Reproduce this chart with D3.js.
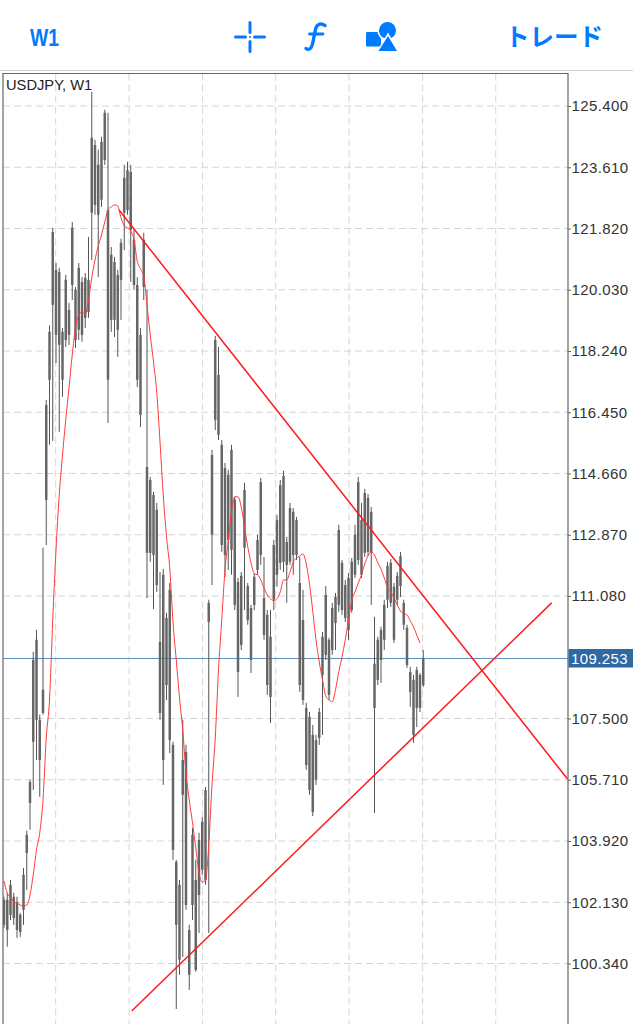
<!DOCTYPE html>
<html>
<head>
<meta charset="utf-8">
<script src="https://cdn.jsdelivr.net/npm/d3@7"></script>
<style>
  html, body { margin: 0; padding: 0; background: #fff; }
  svg { display: block; }
</style>
</head>
<body>
<div id="chart"></div>
<script>
// weekly bars
const high = [102.29,102.40,102.78,102.40,102.29,101.82,103.13,104.22,105.71,109.45,110.09,107.61,112.49,116.81,118.99,121.84,120.81,120.67,118.91,120.46,119.65,122.01,120.11,120.81,120.40,120.52,121.57,125.81,124.41,124.12,124.50,125.29,125.20,121.28,120.99,120.61,121.52,123.68,123.77,123.68,121.78,120.40,118.91,121.69,120.03,114.56,114.12,113.80,111.78,111.87,110.59,111.46,106.82,103.37,102.78,107.46,106.73,101.47,104.30,103.37,104.16,104.62,105.50,110.97,115.35,118.68,118.36,115.64,114.97,114.77,115.50,113.98,111.61,111.78,114.39,111.46,110.82,111.75,112.87,114.53,112.22,110.67,110.67,112.72,113.45,114.47,114.74,112.81,113.80,113.65,113.39,112.22,111.26,107.96,107.69,107.31,107.02,107.81,110.03,111.37,109.86,110.88,111.17,113.16,112.13,111.55,111.75,112.19,113.16,114.56,113.80,114.21,114.06,113.68,110.47,109.89,110.18,110.97,112.08,112.16,111.46,111.78,112.37,110.97,110.24,109.01,108.77,109.01,108.83,109.50];
const open = [102.20,102.20,102.64,102.29,102.14,101.76,102.93,104.10,105.65,109.21,109.80,107.46,108.34,116.66,118.80,121.72,120.61,120.55,118.80,120.32,119.44,121.84,120.03,120.67,120.26,120.38,120.32,124.47,124.26,123.68,124.35,125.20,122.36,121.05,120.84,120.46,121.40,123.30,123.53,123.47,121.49,120.17,118.71,121.49,114.85,114.47,114.03,113.60,109.74,111.70,110.44,111.26,106.73,103.31,102.64,106.29,106.52,101.32,104.10,102.78,103.95,104.48,105.41,110.88,115.20,118.56,117.54,115.50,114.82,114.62,115.35,113.89,111.49,111.67,114.18,111.37,110.73,111.64,112.72,114.41,111.02,110.53,109.89,112.57,113.30,114.32,114.59,112.66,113.65,113.54,113.30,111.46,110.38,107.81,107.55,107.02,106.87,107.69,109.89,111.11,109.80,110.73,111.05,113.01,112.05,111.40,111.61,112.08,112.87,114.41,113.30,114.09,113.95,113.54,109.10,109.80,110.09,110.82,111.96,112.05,111.35,111.67,112.25,110.88,110.15,108.86,108.63,108.92,108.77,108.48];
const close = [101.47,101.32,101.76,101.67,101.32,101.26,101.91,103.57,105.03,106.82,107.46,106.29,107.66,113.89,117.40,119.59,118.71,118.42,117.40,118.56,118.71,120.17,118.56,118.86,118.71,119.21,119.38,122.28,122.51,122.22,122.66,123.82,117.40,119.15,119.15,118.86,120.32,122.28,122.36,121.78,120.17,117.40,116.37,120.11,112.34,112.34,112.28,111.40,107.66,106.29,108.48,106.87,103.66,101.47,100.45,105.27,102.05,100.01,102.05,100.15,102.34,103.08,102.78,110.32,112.87,116.23,115.79,112.57,112.28,112.72,112.43,110.82,108.86,109.65,112.49,110.38,109.21,110.82,111.84,112.28,109.94,108.48,108.13,110.97,111.70,112.05,112.08,111.99,112.08,112.28,112.28,108.48,108.04,106.14,105.41,104.77,105.71,106.93,108.77,109.36,108.19,109.50,110.29,110.82,110.67,110.44,110.09,110.67,111.70,112.13,111.70,112.34,112.37,112.34,107.81,108.63,109.21,109.80,110.97,110.88,109.80,110.97,111.37,110.24,109.06,108.28,107.02,107.81,107.81,109.25];
const low = [101.38,100.83,101.61,101.47,101.09,101.12,101.47,102.49,104.25,105.41,106.29,105.21,107.61,112.57,115.50,115.61,117.89,115.88,116.90,118.36,118.42,119.73,118.33,118.56,118.51,118.91,119.21,120.90,122.22,120.40,122.45,123.68,116.14,118.80,118.65,118.07,119.15,121.19,122.22,120.26,120.03,117.19,116.02,119.73,111.02,112.08,110.70,111.20,107.46,105.56,108.04,106.49,103.37,99.01,100.01,100.53,101.91,99.57,101.61,100.10,101.23,102.93,102.64,101.23,111.40,115.93,115.64,112.37,111.64,111.84,111.70,110.67,108.13,109.50,110.67,110.24,108.83,110.67,111.70,111.99,109.80,108.19,107.37,110.67,111.35,111.84,111.78,110.88,111.99,111.70,112.13,108.28,107.90,106.00,105.27,104.65,105.56,106.73,107.02,109.21,108.04,109.36,109.50,110.62,110.53,110.32,109.80,110.59,111.61,111.99,111.61,112.22,112.25,110.82,104.74,108.48,108.54,109.50,110.73,110.76,109.71,110.82,111.05,110.09,108.98,107.84,106.79,107.25,107.69,108.42];
// red moving average, one value per bar
const movingAvg = [102.75,102.40,102.26,102.14,102.11,102.05,102.02,102.05,102.34,102.93,103.66,104.16,105.12,106.93,108.04,110.38,112.43,114.03,115.20,116.23,117.16,118.13,118.91,119.29,119.38,119.32,119.73,120.38,120.90,121.31,121.63,122.01,122.36,122.45,122.51,122.48,122.13,121.90,121.84,121.75,121.49,120.87,120.64,120.43,119.59,118.71,117.92,117.04,115.58,114.03,112.81,111.90,110.32,109.21,108.10,107.17,105.91,105.12,104.45,103.72,102.99,102.72,102.78,103.81,105.56,106.93,108.92,110.38,111.84,112.69,113.54,113.98,113.98,113.68,113.10,112.52,112.05,111.73,111.70,111.55,111.32,111.11,111.00,110.94,111.00,111.20,111.55,111.55,111.78,112.08,112.19,112.25,112.31,112.02,111.43,110.64,109.80,109.15,108.63,108.16,108.04,107.99,108.34,108.86,109.30,109.80,110.38,110.94,111.20,111.46,111.70,112.02,112.25,112.37,112.28,112.05,111.87,111.61,111.32,111.20,111.02,110.82,110.64,110.56,110.53,110.35,110.18,109.94,109.71];
// trend lines as [bar, price]
const fallingLine = [[35.4, 122.36], [173.4, 105.73]];
const risingLine = [[39.3, 98.95], [168.5, 110.88]];

const priceTicks = [125.4,123.61,121.82,120.03,118.24,116.45,114.66,112.87,111.08,107.5,105.71,103.92,102.13,100.34];
const gridBars = [15.9,38.5,61.1,83.6,106.2,128.8,151.3];
const lastPrice = 109.253;

const width = 633, height = 1024;
const plot = { left: 3, right: 568, top: 73.5, bottom: 1024 };
const blue = "#007aff";
const textFont = "'Liberation Sans', Arial, sans-serif";

const xScale = d3.scaleLinear().domain([0, 129]).range([4, 423.25]);
const yScale = d3.scaleLinear().domain([125.4, 100.34]).range([106, 963.5]);

const svg = d3.select("#chart")
    .append("svg")
    .attr("width", width)
    .attr("height", height);

svg.append("clipPath")
    .attr("id", "clip")
    .append("rect")
    .attr("x", plot.left)
    .attr("y", plot.top)
    .attr("width", plot.right - plot.left)
    .attr("height", plot.bottom - plot.top);

// top toolbar
const bar = svg.append("g").attr("class", "toolbar");

bar.append("text")
    .attr("x", 30).attr("y", 45.5)
    .attr("font-family", textFont)
    .attr("font-weight", "bold")
    .attr("font-size", 24)
    .attr("textLength", 29)
    .attr("lengthAdjust", "spacingAndGlyphs")
    .attr("fill", blue)
    .text("W1");

// crosshair
bar.append("path")
    .attr("d", "M235.5 37H245.5M254.5 37H264.5M250 22.5V32.5M250 41.5V51.5")
    .attr("stroke", blue).attr("stroke-width", 3).attr("stroke-linecap", "round").attr("fill", "none");
bar.append("circle").attr("cx", 250).attr("cy", 37).attr("r", 1).attr("fill", blue);

// function button
bar.append("path")
    .attr("d", "M325 25.5C320 22.5 316.5 24.5 315.5 29.5L312.5 44C311.5 49 308.5 50.5 306 48.5")
    .attr("stroke", blue).attr("stroke-width", 3.4).attr("stroke-linecap", "round").attr("fill", "none");
bar.append("path")
    .attr("d", "M309.5 34H323")
    .attr("stroke", blue).attr("stroke-width", 2.8).attr("stroke-linecap", "round");

// objects button
bar.append("rect").attr("x", 366).attr("y", 32).attr("width", 15).attr("height", 14.5).attr("rx", 1).attr("fill", blue);
bar.append("circle").attr("cx", 387.5).attr("cy", 30.5).attr("r", 10.2).attr("fill", "#fff");
bar.append("circle").attr("cx", 387.5).attr("cy", 30.5).attr("r", 8.5).attr("fill", blue);
bar.append("path").attr("d", "M388 32.5L400 53H376Z").attr("fill", "#fff");
bar.append("path").attr("d", "M388 36L397 51H378.5Z").attr("fill", blue);

bar.append("text")
    .attr("x", 505).attr("y", 46)
    .attr("font-family", "'Noto Sans CJK JP', sans-serif")
    .attr("font-weight", 700)
    .attr("font-size", 24.5)
    .attr("fill", blue)
    .text("トレード");

svg.append("line")
    .attr("x1", 0).attr("x2", width)
    .attr("y1", 70.5).attr("y2", 70.5)
    .attr("stroke", "#cfcfcf");

// grid
const grid = svg.append("g").attr("clip-path", "url(#clip)")
    .attr("stroke", "#d6d6d6")
    .attr("stroke-dasharray", "7 4");

grid.selectAll(".h").data(priceTicks).enter().append("line")
    .attr("x1", plot.left).attr("x2", plot.right)
    .attr("y1", d => yScale(d)).attr("y2", d => yScale(d));

grid.selectAll(".v").data(gridBars).enter().append("line")
    .attr("x1", d => xScale(d)).attr("x2", d => xScale(d))
    .attr("y1", plot.top).attr("y2", plot.bottom);

// current price line sits under the bars
svg.append("line")
    .attr("x1", plot.left).attr("x2", plot.right)
    .attr("y1", yScale(lastPrice)).attr("y2", yScale(lastPrice))
    .attr("stroke", "#5d8fc2")
    .attr("stroke-width", 1);

// bars
const bars = svg.append("g").attr("clip-path", "url(#clip)");

bars.selectAll(".wick").data(high).enter().append("line")
    .attr("class", "wick")
    .attr("x1", (d, i) => xScale(i)).attr("x2", (d, i) => xScale(i))
    .attr("y1", d => yScale(d))
    .attr("y2", (d, i) => yScale(low[i]))
    .attr("stroke", "#555")
    .attr("stroke-width", 1);

bars.selectAll(".body").data(open).enter().append("line")
    .attr("class", "body")
    .attr("x1", (d, i) => xScale(i)).attr("x2", (d, i) => xScale(i))
    .attr("y1", d => yScale(d))
    .attr("y2", (d, i) => yScale(close[i]))
    .attr("stroke", "#666")
    .attr("stroke-width", 2.5);

// moving average
const maLine = d3.line()
    .x((d, i) => xScale(i))
    .y(d => yScale(d))
    .curve(d3.curveMonotoneX);

svg.append("path")
    .attr("d", maLine(movingAvg))
    .attr("fill", "none")
    .attr("stroke", "#ff3b3b")
    .attr("stroke-width", 1);

// trend lines
const trend = d3.line().x(d => xScale(d[0])).y(d => yScale(d[1]));
svg.selectAll(".trend").data([fallingLine, risingLine]).enter().append("path")
    .attr("class", "trend")
    .attr("d", trend)
    .attr("fill", "none")
    .attr("stroke", "#ff1a1a")
    .attr("stroke-width", 1.5);

// frame
svg.append("path")
    .attr("d", `M${plot.left} ${plot.bottom}V${plot.top}H${plot.right}V${plot.bottom}`)
    .attr("fill", "none")
    .attr("stroke", "#666")
    .attr("stroke-width", 1.2);

// price axis
const yAxis = d3.axisRight(yScale)
    .tickValues(priceTicks)
    .tickSize(3)
    .tickPadding(0.5)
    .tickFormat(d3.format(".3f"));

const axisG = svg.append("g")
    .attr("transform", `translate(${plot.right},0)`)
    .call(yAxis);
axisG.select(".domain").remove();
axisG.selectAll("line").attr("stroke", "#666");
axisG.selectAll("text")
    .attr("font-family", textFont)
    .attr("font-size", 15)
    .attr("letter-spacing", 0.4)
    .attr("fill", "#333");

// current price tag
svg.append("rect")
    .attr("x", plot.right + 0.5).attr("y", yScale(lastPrice) - 9.5)
    .attr("width", width - plot.right).attr("height", 18.5)
    .attr("fill", "#2e69a3");
svg.append("text")
    .attr("x", plot.right + 3).attr("y", yScale(lastPrice) + 5.5)
    .attr("font-family", textFont)
    .attr("font-size", 15)
    .attr("letter-spacing", 0.4)
    .attr("fill", "#fff")
    .text(lastPrice.toFixed(3));

svg.append("text")
    .attr("x", 6).attr("y", 90)
    .attr("font-family", textFont)
    .attr("font-size", 14.7)
    .attr("fill", "#222")
    .text("USDJPY, W1");
</script>
</body>
</html>
